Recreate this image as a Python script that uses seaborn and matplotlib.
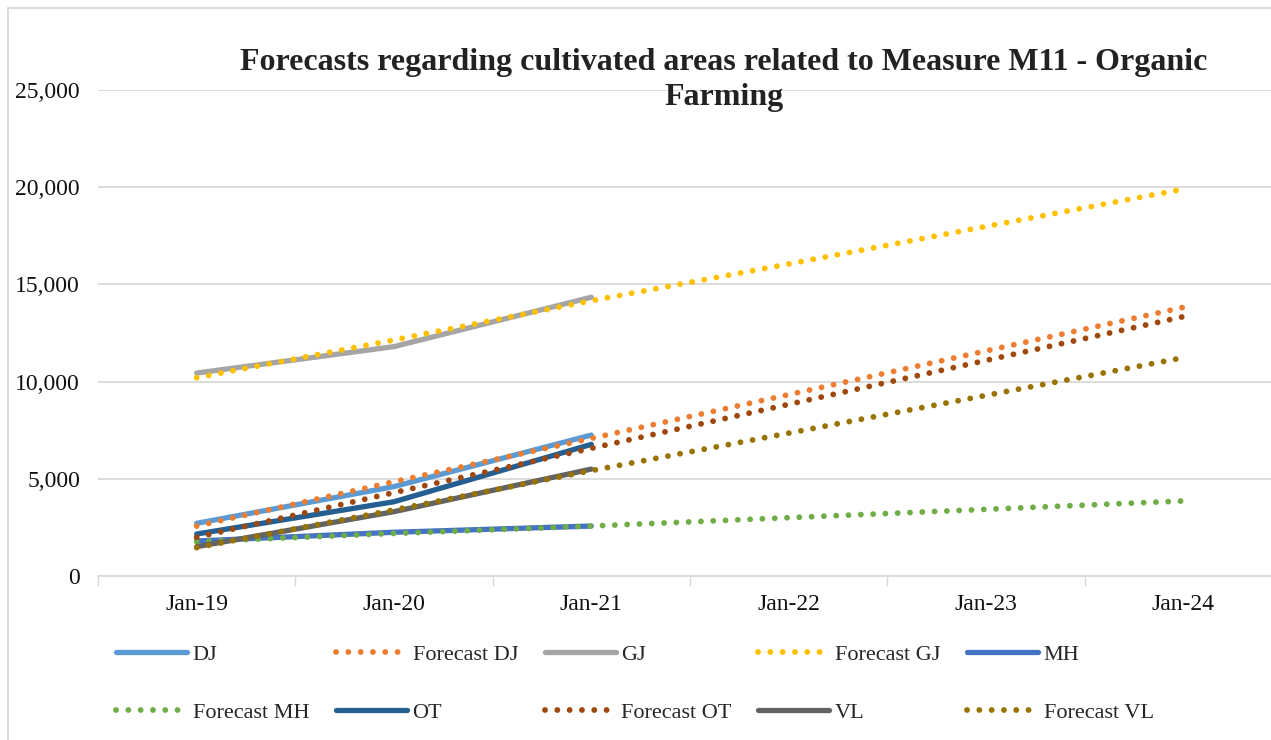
import numpy as np
import pandas as pd
import matplotlib
matplotlib.use('Agg')
import matplotlib.pyplot as plt
import seaborn as sns
from matplotlib.ticker import FuncFormatter, FixedLocator
from matplotlib.patches import Rectangle

sns.set_theme(style='white')
plt.rcParams['font.family'] = ['Liberation Serif', 'DejaVu Serif']

# data
years = ['Jan-19', 'Jan-20', 'Jan-21', 'Jan-22', 'Jan-23', 'Jan-24']
actual_years = years[:3]

dj = [2710, 4600, 7250]
gj = [10440, 11800, 14340]
mh = [1800, 2250, 2570]
ot = [2160, 3820, 6770]
vl = [1510, 3310, 5500]

fc_dj = [2570, 4850, 7080, 9330, 11580, 13820]
fc_gj = [10200, 12140, 14160, 16050, 17980, 19900]
fc_mh = [1770, 2190, 2570, 3000, 3430, 3860]
fc_ot = [1990, 4290, 6570, 8830, 11090, 13340]
fc_vl = [1460, 3400, 5420, 7350, 9290, 11230]

series = [
    ('DJ', actual_years, dj, '#5B9BD5', False),
    ('Forecast DJ', years, fc_dj, '#ED7D31', True),
    ('GJ', actual_years, gj, '#A5A5A5', False),
    ('Forecast GJ', years, fc_gj, '#FFC000', True),
    ('MH', actual_years, mh, '#4472C4', False),
    ('Forecast MH', years, fc_mh, '#70AD47', True),
    ('OT', actual_years, ot, '#255E91', False),
    ('Forecast OT', years, fc_ot, '#9E480E', True),
    ('VL', actual_years, vl, '#636363', False),
    ('Forecast VL', years, fc_vl, '#997300', True),
]

W, H = 1271, 740
fig = plt.figure(figsize=(W / 100, H / 100), dpi=100)
ax = fig.add_axes([98 / W, (H - 576) / H, (1282 - 98) / W, (576 - 90) / H])

pos = {y: i for i, y in enumerate(years)}
for name, xs, vals, color, dotted in series:
    xi = [pos[x] for x in xs]
    if dotted:
        sns.lineplot(x=xi, y=vals, ax=ax, color=color, lw=4.2, label=name,
                     linestyle=(0, (0.01, 2.1)), dash_capstyle='round', sort=False)
    else:
        sns.lineplot(x=xi, y=vals, ax=ax, color=color, lw=3.8, label=name,
                     solid_capstyle='round', sort=False)

ax.set_xlim(-0.5, len(years) - 0.5)
ax.set_ylim(0, 25000)
ax.set_xticks(range(len(years)))
ax.set_xticklabels(years)
ax.xaxis.set_minor_locator(FixedLocator(np.arange(-0.5, len(years), 1)))
ax.tick_params(axis='x', which='major', length=0, pad=13, labelsize=17, colors='#111111')
ax.tick_params(axis='x', which='minor', length=7, width=1, color='#d9d9d9', direction='out', bottom=True)
ax.set_yticks(range(0, 25001, 5000))
ax.yaxis.set_major_formatter(FuncFormatter(lambda v, p: f'{int(v):,}'))
ax.tick_params(axis='y', length=0, pad=13, labelsize=17, colors='#111111')
ax.grid(axis='y', color='#d9d9d9', lw=1.3)
ax.set_axisbelow(True)
for s in ['top', 'right', 'left']:
    ax.spines[s].set_visible(False)
ax.spines['bottom'].set_color('#d9d9d9')
ax.spines['bottom'].set_linewidth(1.3)
ax.set_xlabel('')
ax.set_ylabel('')

# legend: matplotlib fills column-wise, reorder so rows read left to right
handles, labels = ax.get_legend_handles_labels()
ax.legend_.remove()
order = [0, 5, 1, 6, 2, 7, 3, 8, 4, 9]
fig.legend([handles[i] for i in order], [labels[i] for i in order], ncol=5,
           loc='upper left', bbox_to_anchor=(96 / W, 1 - 624 / H), frameon=False,
           fontsize=16, handlelength=3.2, handletextpad=0.25,
           columnspacing=1.2, labelspacing=1.7)

fig.text(724 / W, 1 - 80 / H,
         'Forecasts regarding cultivated areas related to Measure M11 - Organic\nFarming',
         ha='center', va='center', fontsize=23, fontweight='bold',
         linespacing=1.3, color='#222222')

fig.patches.append(Rectangle((8 / W, -0.1), 1.2, 1 - 8 / H + 0.1,
                             transform=fig.transFigure, fill=False,
                             edgecolor='#d9d9d9', lw=1.3))

fig.savefig('out.png', dpi=100)
